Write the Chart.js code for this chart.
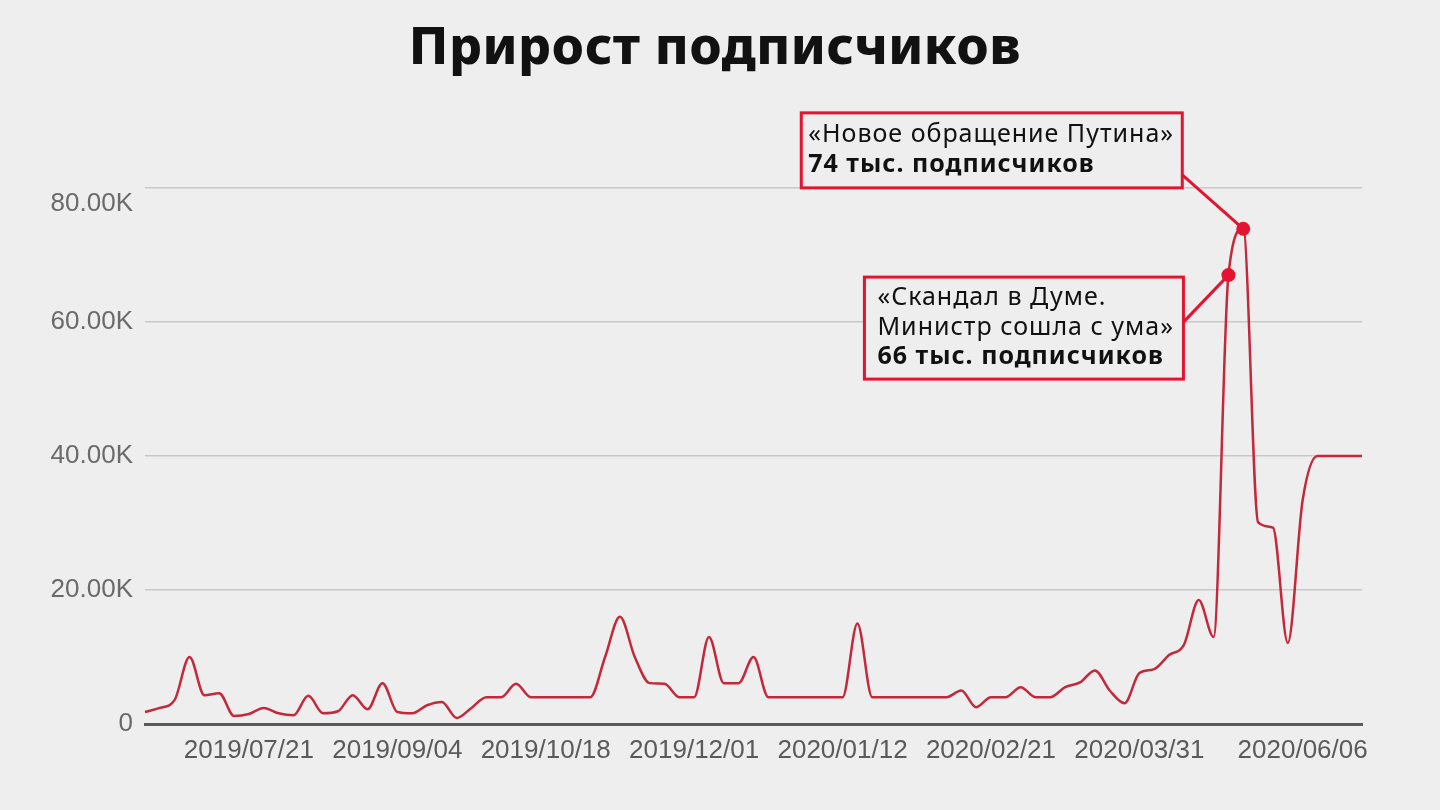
<!DOCTYPE html>
<html lang="ru">
<head>
<meta charset="utf-8">
<title>Прирост подписчиков</title>
<script src="https://cdn.jsdelivr.net/npm/chart.js@4.4.1/dist/chart.umd.min.js"></script>
<style>
  html, body {
    margin: 0;
    padding: 0;
    background: #eeeeee;
  }
  #wrap {
    position: relative;
    width: 1440px;
    height: 810px;
  }
  #title {
    position: absolute;
    left: 0;
    top: 14px;
    width: 1430px;
    margin: 0;
    text-align: center;
    font-family: "Noto Sans", sans-serif;
    font-weight: 800;
    font-size: 52px;
    line-height: 60px;
    letter-spacing: 0.5px;
    color: #111111;
  }
</style>
</head>
<body>
<div id="wrap">
  <h1 id="title"></h1>
  <canvas id="growthChart" width="1440" height="810"></canvas>
</div>
<script>
// =====================================================
// DATA
// =====================================================

const TITLE = "Прирост подписчиков";

// subscriber growth per point
const growth = [
  1800, 2400, 3600, 10000, 4300, 4600, 1200, 1500, 2400, 1600,
  1300, 4200, 1600, 1900, 4300, 2200, 6100, 1800, 1600, 2800,
  3300, 900, 2400, 4000, 4000, 6000, 4000, 4000, 4000, 4000,
  4000, 10000, 16000, 10000, 6100, 6000, 4000, 4000, 13000, 6100,
  6100, 10000, 4000, 4000, 4000, 4000, 4000, 4000, 15000, 4000,
  4000, 4000, 4000, 4000, 4000, 5000, 2500, 4000, 4000, 5500,
  4000, 4000, 5500, 6200, 8000, 5000, 3100, 7600, 8200, 10300,
  11800, 18500, 13000, 67000, 73900, 30100, 29300, 12100, 33400, 40000,
  40000, 40000, 40000
];

// which points carry a date label
const tickIndex = [7, 17, 27, 37, 47, 57, 67, 78];

const tickLabels = [
  "2019/07/21",
  "2019/09/04",
  "2019/10/18",
  "2019/12/01",
  "2020/01/12",
  "2020/02/21",
  "2020/03/31",
  "2020/06/06"
];

const yTicks = [0, 20000, 40000, 60000, 80000];

// annotated points
const noteIndex = [74, 73];

const noteLines = [
  [
    { text: "«Новое обращение Путина»", bold: false },
    { text: "74 тыс. подписчиков", bold: true }
  ],
  [
    { text: "«Скандал в Думе.", bold: false },
    { text: "Министр сошла с ума»", bold: false },
    { text: "66 тыс. подписчиков", bold: true }
  ]
];

// =====================================================
// STYLE
// =====================================================

const RED = "#e3142f";
const LINE = "#c3283b";
const NOTE_FONT = "'Noto Sans', sans-serif";

// box placement relative to its point: right edge, top, width, height, joint y
const noteBox = [
  { dx: -61, dy: -116, w: 381, h: 75, jy: -54, padX: 7, lineH: 30, firstY: 22 },
  { dx: -45, dy: 2, w: 319, h: 102, jy: 47, padX: 13, lineH: 29.5, firstY: 21 }
];

const pointLabels = growth.map((_, i) => i);

document.getElementById("title").textContent = TITLE;

// =====================================================
// NOTES PLUGIN
// =====================================================

const notesPlugin = {

  id: "notes",

  beforeDatasetsDraw(chart) {

    const ctx = chart.ctx;
    const meta = chart.getDatasetMeta(0);

    noteIndex.forEach((idx, n) => {

      const pt = meta.data[idx];
      const box = noteBox[n];

      const right = pt.x + box.dx;
      const left = right - box.w;
      const top = pt.y + box.dy;

      ctx.save();

      // connector
      ctx.strokeStyle = RED;
      ctx.lineWidth = 3;
      ctx.beginPath();
      ctx.moveTo(right, pt.y + box.jy);
      ctx.lineTo(pt.x, pt.y);
      ctx.stroke();

      // box
      ctx.fillStyle = "#eeeeee";
      ctx.fillRect(left, top, box.w, box.h);
      ctx.lineWidth = 3;
      ctx.strokeRect(left, top, box.w, box.h);

      // text
      ctx.fillStyle = "#111111";
      ctx.textBaseline = "middle";
      ctx.textAlign = "left";
      ctx.letterSpacing = "1px";

      noteLines[n].forEach((line, k) => {

        ctx.font =
          (line.bold ? "bold " : "") + "25px " + NOTE_FONT;

        ctx.fillText(
          line.text,
          left + box.padX,
          top + box.firstY + k * box.lineH
        );
      });

      ctx.restore();
    });
  }
};

// =====================================================
// CHART
// =====================================================

const growthChart = new Chart(
  document.getElementById("growthChart"),
  {

    type: "line",

    data: {

      labels: pointLabels,

      datasets: [
        {
          label: "Прирост",

          data: growth,

          borderColor: LINE,

          borderWidth: 2.5,

          cubicInterpolationMode: "monotone",

          pointRadius: growth.map((_, i) =>
            noteIndex.includes(i) ? 7 : 0
          ),

          pointBackgroundColor: RED,

          pointBorderWidth: 0,

          fill: false
        }
      ]
    },

    options: {

      responsive: false,

      animation: false,

      layout: {
        padding: { left: 0, right: 78, top: 188, bottom: 0 }
      },

      plugins: {

        legend: { display: false },

        tooltip: { enabled: false },

        title: { display: false }
      },

      scales: {

        x: {

          type: "category",

          grid: { display: false },

          border: {
            color: "#5a5a5a",
            width: 3
          },

          ticks: {

            autoSkip: false,

            maxRotation: 0,

            padding: 3,

            color: "#5a5a5a",

            font: {
              family: "'Liberation Sans', Arial, sans-serif",
              size: 26
            },

            callback: (value, i) => {
              const k = tickIndex.indexOf(i);
              return k >= 0 ? tickLabels[k] : null;
            }
          },

          afterFit: scale => {
            scale.height = 86;
          }
        },

        y: {

          min: yTicks[0],

          max: yTicks[yTicks.length - 1],

          border: { display: false },

          grid: {
            color: "#c8c8c8",
            lineWidth: 1.5,
            drawTicks: false
          },

          afterBuildTicks: scale => {
            scale.ticks = yTicks.map(v => ({ value: v }));
          },

          ticks: {

            padding: 12,

            color: "#6a6a6a",

            font: {
              family: "'Liberation Sans', Arial, sans-serif",
              size: 26
            },

            // the top label sits just under its grid line
            callback: v => {
              const text =
                v === 0 ? "0" : (v / 1000).toFixed(2) + "K";
              return v === yTicks[yTicks.length - 1]
                ? ["", text]
                : text;
            }
          },

          afterFit: scale => {
            scale.width = 145;
          }
        }
      }
    },

    plugins: [notesPlugin]
  }
);
</script>
</body>
</html>
